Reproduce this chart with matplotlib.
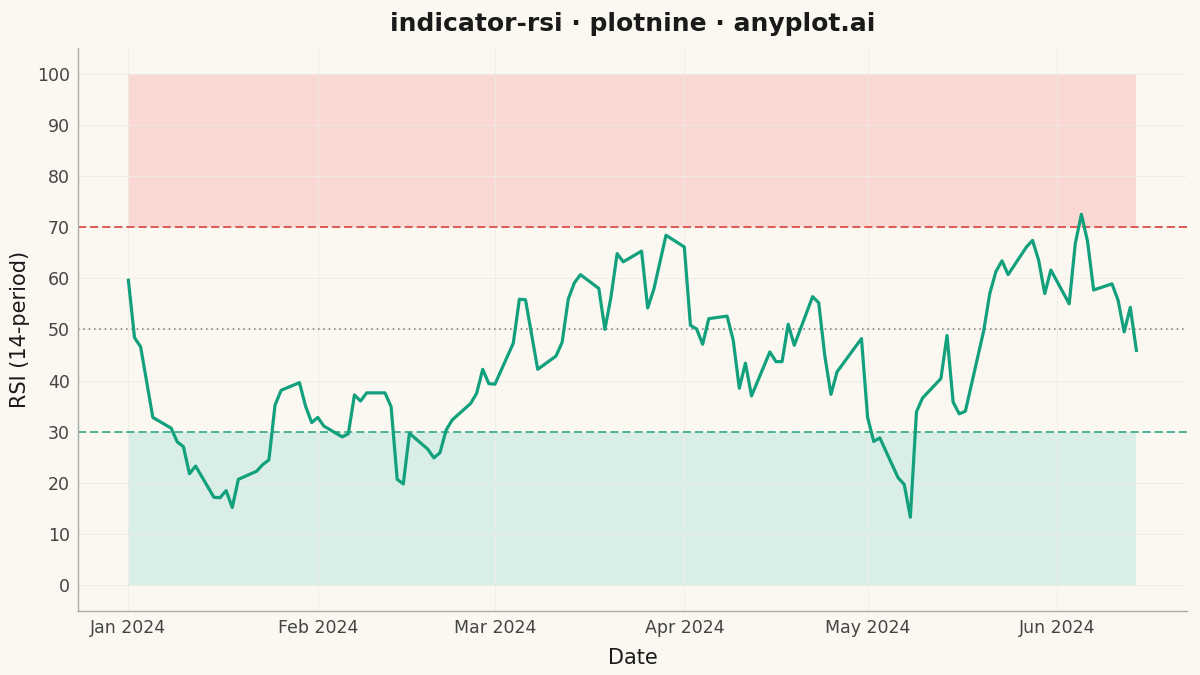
import numpy as np
import pandas as pd
import matplotlib
matplotlib.use("Agg")
import matplotlib.pyplot as plt
import matplotlib.dates as mdates

# DATA - RSI (14-period), business days from Jan 1 2024
dates = pd.bdate_range("2024-01-01", periods=120)
rsi = [
    # Jan
    59.6, 48.4, 46.6, 39.7, 32.8, 30.7, 28.0, 27.1, 21.8, 23.3,
    17.2, 17.1, 18.5, 15.2, 20.7, 22.3, 23.6, 24.5, 35.2, 38.1,
    39.6, 35.0, 31.8,
    # Feb
    32.8, 31.1, 29.0, 29.6, 37.2, 36.0, 37.6, 37.6, 34.9, 20.7,
    19.8, 29.7, 26.6, 24.9, 25.9, 30.3, 32.3, 35.5, 37.5, 42.2,
    39.4,
    # Mar
    39.3, 47.3, 55.9, 55.8, 49.0, 42.2, 44.8, 47.5, 55.9, 59.1,
    60.7, 58.0, 50.0, 56.4, 64.8, 63.2, 65.3, 54.2, 57.8, 63.1,
    68.4,
    # Apr
    66.1, 50.8, 50.1, 47.1, 52.1, 52.6, 47.9, 38.5, 43.4, 37.0,
    45.6, 43.7, 43.7, 51.0, 46.9, 56.4, 55.2, 44.8, 37.3, 41.7,
    46.6, 48.2,
    # May
    32.8, 28.1, 28.8, 21.0, 19.7, 13.3, 33.9, 36.6, 40.4, 48.8,
    35.8, 33.5, 34.0, 49.7, 57.0, 61.3, 63.4, 60.7, 66.1, 67.4,
    63.5, 57.0, 61.6,
    # Jun
    55.0, 66.8, 72.5, 67.2, 57.7, 58.9, 55.7, 49.5, 54.3, 45.9,
]
overbought = 70
oversold = 30
midline = 50
y_ticks = list(range(0, 101, 10))

BG = "#FAF8F1"
LINE = "#12A07D"

fig = plt.figure(figsize=(12, 6.75), dpi=100, facecolor=BG)
ax = fig.add_axes([0.065, 0.095, 0.924, 0.834], facecolor=BG)

# zones
ax.fill_between(dates, overbought, 100, color="#FAD9D4", linewidth=0, zorder=1)
ax.fill_between(dates, 0, oversold, color="#D8EEE7", linewidth=0, zorder=1)

# reference lines
ax.axhline(overbought, color="#DC4E4B", linestyle=(0, (4.5, 2.2)), linewidth=1.3, zorder=2)
ax.axhline(oversold, color="#3DAE92", linestyle=(0, (4.5, 2.2)), linewidth=1.3, zorder=2)
ax.axhline(midline, color="#888888", linestyle=(0, (1, 2.2)), linewidth=1.2, zorder=2)

ax.plot(dates, rsi, color=LINE, linewidth=2.3, zorder=3)

# axes scale like plotnine default expansion (5%)
span = dates[-1] - dates[0]
ax.set_xlim(dates[0] - span * 0.05, dates[-1] + span * 0.05)
ax.set_ylim(-5, 105)
ax.set_yticks(y_ticks)
ax.xaxis.set_major_locator(mdates.MonthLocator())
ax.xaxis.set_major_formatter(mdates.DateFormatter("%b %Y"))

ax.grid(True, color="#EEECE5", linewidth=0.6, zorder=0)
ax.tick_params(length=0, labelsize=12.5, colors="#444444", pad=6)
for s in ["top", "right"]:
    ax.spines[s].set_visible(False)
for s in ["left", "bottom"]:
    ax.spines[s].set_color("#AAAAAA")
    ax.spines[s].set_linewidth(1.0)

ax.set_xlabel("Date", fontsize=15, color="#1A1A1A", labelpad=8)
ax.set_ylabel("RSI (14-period)", fontsize=15, color="#1A1A1A", labelpad=5)
ax.set_title("indicator-rsi · plotnine · anyplot.ai", fontsize=18, fontweight="bold",
             color="#1A1A1A", pad=12)

fig.savefig("out.png", dpi=100, facecolor=BG)
